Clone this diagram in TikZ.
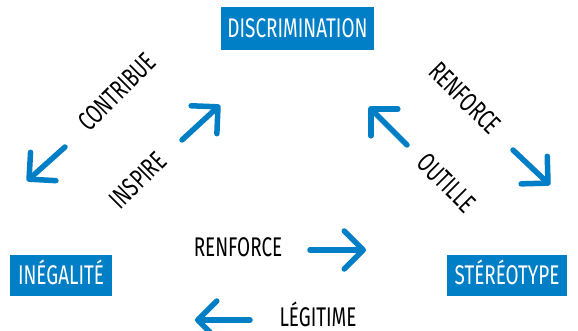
\documentclass[tikz,border=0pt]{standalone}
\usepackage{fontspec}
\setmainfont[FakeStretch=0.7]{Fira Sans}
\usetikzlibrary{arrows.meta}
\definecolor{blu}{RGB}{0,126,198}
\begin{document}
\begin{tikzpicture}[x=1pt,y=-1pt,
 box/.style={fill=blu,text=white,inner sep=0pt,text height=18pt,text depth=0pt,font=\fontsize{27}{27}\selectfont},
 lbl/.style={inner sep=0pt,text height=18.6pt,text depth=0pt,font=\fontsize{27}{27}\selectfont},
 arr/.style={draw=blu,line width=5.5pt,line cap=round,-{Straight Barb[length=19pt,width=38pt,round]}}]
\useasboundingbox (0,0) rectangle (578,331);
\node[box,minimum width=153pt,minimum height=43pt] (disc) at (297.5,28.5) {DISCRIMINATION};
\node[box,minimum width=102pt,minimum height=41pt] (ineg) at (61,275.5) {INÉGALITÉ};
\node[box,minimum width=120pt,minimum height=41pt] (ster) at (507,275.5) {STÉRÉOTYPE};
\node[lbl,rotate=45] (contrib) at (117,92) {CONTRIBUE};
\node[lbl,rotate=45] (inspire) at (138,180) {INSPIRE};
\node[lbl,rotate=-45] (renf1) at (465,98) {RENFORCE};
\node[lbl,rotate=-45] (outil) at (447,183) {OUTILLE};
\node[lbl] (renf2) at (238,247.5) {RENFORCE};
\node[lbl] (legit) at (318,317.5) {LÉGITIME};
\coordinate (a1s) at (65,147); \coordinate (a1e) at (27,181);
\coordinate (a2s) at (182,140); \coordinate (a2e) at (220,105);
\coordinate (a3s) at (407,145); \coordinate (a3e) at (369,107);
\coordinate (a4s) at (513,150); \coordinate (a4e) at (550,185);
\coordinate (a5s) at (310,250); \coordinate (a5e) at (366,250);
\coordinate (a6s) at (250,320); \coordinate (a6e) at (195,320);
\draw[arr] (a1s) -- (a1e);
\draw[arr] (a2s) -- (a2e);
\draw[arr] (a3s) -- (a3e);
\draw[arr] (a4s) -- (a4e);
\draw[arr] (a5s) -- (a5e);
\draw[arr] (a6s) -- (a6e);
\end{tikzpicture}
\end{document}
